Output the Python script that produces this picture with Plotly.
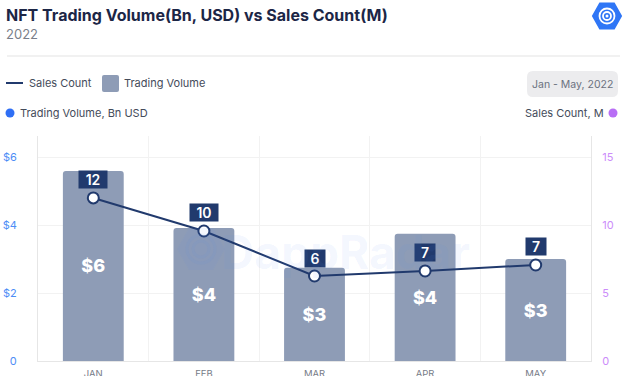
import plotly.graph_objects as go

months = ["JAN", "FEB", "MAR", "APR", "MAY"]
trading_volume = [5.59, 3.91, 2.74, 3.74, 3.00]   # Bn USD
sales_count = [11.99, 9.56, 6.25, 6.62, 7.06]     # M
left_ticks = [0, 2, 4, 6]
left_tick_text = ["0", "$2", "$4", "$6"]
right_ticks = [0, 5, 10, 15]

W, H = 627, 376
L, R, T, B = 38, 591, 136, 361

def px(x):
    return (x - L) / (R - L)

def py(y):
    return (B - y) / (B - T)

NAVY = "#213a6d"
BAR = "#8e9cb6"

fig = go.Figure()
fig.add_trace(go.Bar(
    x=months, y=trading_volume, name="Trading Volume",
    marker=dict(color=BAR, cornerradius=3),
    width=0.55,
    text=["$" + str(round(v)) for v in trading_volume],
    textposition="inside", insidetextanchor="middle",
    textfont=dict(color="white", size=18, family="Inter", weight=800),
    hoverinfo="skip",
))
fig.add_trace(go.Scatter(
    x=months, y=sales_count, yaxis="y2", name="Sales Count",
    mode="lines+markers",
    line=dict(color=NAVY, width=2),
    marker=dict(size=11, color="white", line=dict(color=NAVY, width=2)),
    hoverinfo="skip",
))

annotations = []
for m, v in zip(months, sales_count):
    label = str(round(v))
    annotations.append(dict(
        x=m, y=v, xref="x", yref="y2", text=label, showarrow=False,
        yshift=18, bgcolor=NAVY, borderpad=0, width=12 + 8 * len(label), height=17,
        font=dict(color="white", size=14, family="Inter", weight=600),
    ))

def ann(x, y, text, size, color, xanchor="left", weight=400, family="Inter"):
    annotations.append(dict(
        x=px(x), y=py(y), xref="paper", yref="paper", text=text,
        showarrow=False, xanchor=xanchor, yanchor="middle",
        font=dict(size=size, color=color, family=family, weight=weight),
    ))

ann(4, 15, "NFT Trading Volume(Bn, USD) vs Sales Count(M)", 16, "#1c2646", weight=700)
ann(4, 34, "2022", 13, "#7a7f8a")
ann(27, 83, "Sales Count", 11, "#444b5a")
ann(122, 83, "Trading Volume", 11, "#444b5a")
ann(572, 84, "Jan - May, 2022", 10.5, "#6b7280", xanchor="center")
ann(18, 113, "Trading Volume, Bn USD", 11, "#444b5a")
ann(606, 113, "Sales Count, M", 11, "#444b5a", xanchor="right")
# watermark
annotations.append(dict(
    x=px(345), y=py(252), xref="paper", yref="paper", text="DappRadar",
    showarrow=False, xanchor="center", yanchor="middle",
    font=dict(size=46, color="rgba(90,140,240,0.07)", family="Inter", weight=700),
))

shapes = []

# separator line
shapes.append(dict(type="line", xref="paper", yref="paper", x0=px(7), x1=px(620),
                   y0=py(56), y1=py(56), line=dict(color="#f1f1f1", width=2)))
# legend line + square
shapes.append(dict(type="line", xref="paper", yref="paper", x0=px(6), x1=px(23),
                   y0=py(83), y1=py(83), line=dict(color=NAVY, width=2)))

def rpath(x0, y0, x1, y1, r):
    return (f"M {px(x0+r)} {py(y0)} L {px(x1-r)} {py(y0)} Q {px(x1)} {py(y0)} {px(x1)} {py(y0+r)} "
            f"L {px(x1)} {py(y1-r)} Q {px(x1)} {py(y1)} {px(x1-r)} {py(y1)} "
            f"L {px(x0+r)} {py(y1)} Q {px(x0)} {py(y1)} {px(x0)} {py(y1-r)} "
            f"L {px(x0)} {py(y0+r)} Q {px(x0)} {py(y0)} {px(x0+r)} {py(y0)} Z")

shapes.append(dict(type="path", xref="paper", yref="paper", path=rpath(102, 75, 119, 92, 2),
                   fillcolor=BAR, line=dict(width=0)))
# date button
shapes.append(dict(type="path", xref="paper", yref="paper", path=rpath(527, 71, 618, 97, 6),
                   fillcolor="#ececee", line=dict(width=0)))
# dots
shapes.append(dict(type="circle", xref="paper", yref="paper", x0=px(5.5), x1=px(14.5),
                   y0=py(108.5), y1=py(117.5), fillcolor="#2f6ff5", line=dict(width=0)))
shapes.append(dict(type="circle", xref="paper", yref="paper", x0=px(608.5), x1=px(617.5),
                   y0=py(108.5), y1=py(117.5), fillcolor="#b86ef5", line=dict(width=0)))

def hexagon(cx, cy, hw, hh):
    pts = [(cx - hw, cy), (cx - hw / 2, cy - hh), (cx + hw / 2, cy - hh),
           (cx + hw, cy), (cx + hw / 2, cy + hh), (cx - hw / 2, cy + hh)]
    return "M " + " L ".join(f"{px(a)} {py(b)}" for a, b in pts) + " Z"

# logo hexagon
shapes.append(dict(type="path", xref="paper", yref="paper", path=hexagon(607, 16, 14, 12.5),
                   fillcolor="#2f76f6", line=dict(color="#2f76f6", width=2)))
for r in (7.5, 4):
    shapes.append(dict(type="circle", xref="paper", yref="paper", x0=px(607 - r), x1=px(607 + r),
                       y0=py(16 - r), y1=py(16 + r), line=dict(color="white", width=1.8)))
shapes.append(dict(type="circle", xref="paper", yref="paper", x0=px(605.5), x1=px(608.5),
                   y0=py(14.5), y1=py(17.5), fillcolor="white", line=dict(width=0)))
# watermark logo
shapes.append(dict(type="path", xref="paper", yref="paper", path=hexagon(201, 249, 24, 21),
                   fillcolor="rgba(90,140,240,0.06)", line=dict(width=0)))
for r in (14, 8):
    shapes.append(dict(type="circle", xref="paper", yref="paper", x0=px(201 - r), x1=px(201 + r),
                       y0=py(249 - r), y1=py(249 + r), line=dict(color="rgba(90,140,240,0.07)", width=3)))

fig.update_layout(
    template="none",
    width=W, height=H,
    margin=dict(l=L, r=W - R, t=T, b=H - B, pad=0, autoexpand=False),
    paper_bgcolor="white", plot_bgcolor="white",
    showlegend=False,
    bargap=0.45,
    font=dict(family="Inter"),
    xaxis=dict(
        type="category", tickson="boundaries", showgrid=True, gridcolor="#f2f2f2", gridwidth=1,
        showline=True, linecolor="#e6e6e6", linewidth=1, ticks="", automargin=False,
        tickfont=dict(size=9.5, color="#777c88"), fixedrange=True, zeroline=False,
        ticklabelstandoff=4,
    ),
    yaxis=dict(
        range=[0, (B - T) / 34.0], tickvals=left_ticks, ticktext=left_tick_text,
        showgrid=True, gridcolor="#f2f2f2", gridwidth=1, zeroline=False, ticks="",
        showline=True, linecolor="#e6e6e6", linewidth=1, automargin=False,
        tickfont=dict(size=11, color="#4d8df6"), ticklabelstandoff=18,
    ),
    yaxis2=dict(
        range=[0, (B - T) / 13.6], tickvals=right_ticks, overlaying="y", side="right",
        showgrid=False, zeroline=False, showline=True, linecolor="#e6e6e6", linewidth=1,
        ticks="", automargin=False,
        tickfont=dict(size=11, color="#cc8cfa"), ticklabelstandoff=8,
    ),
    annotations=annotations,
    shapes=shapes,
)

fig.write_html(
    "out.html",
    config={"displayModeBar": False, "staticPlot": True},
    post_script="document.body.style.margin='0';document.body.style.overflow='hidden';",
)
